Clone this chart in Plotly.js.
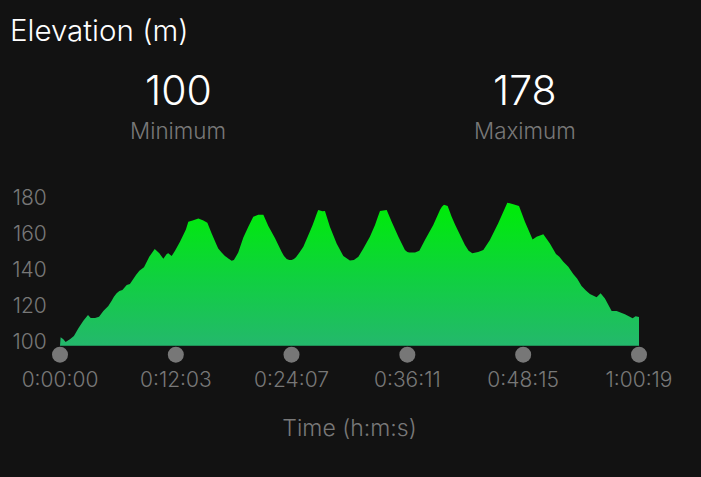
<!DOCTYPE html>
<html>
<head>
<meta charset="utf-8">
<script src="https://cdn.plot.ly/plotly-3.0.1.min.js"></script>
<style>
html, body { margin: 0; padding: 0; background: #121212; }
#chart { width: 701px; height: 477px; }
</style>
</head>
<body>
<div id="chart"></div>
<script>
// elevation profile. first and last points sit on the chart floor
var times = [0,4,21,35,62,87,115,146,175,192,219,244,271,302,323,337,354,371,390,417,437,475,496,525,558,592,621,646,667,677,698,719,750,775,787,802,829,865,896,921,948,979,989,1010,1031,1042,1052,1073,1087,1114,1146,1177,1208,1239,1271,1302,1344,1385,1400,1417,1433,1448,1462,1475,1500,1521,1562,1579,1594,1604,1614,1641,1656,1687,1729,1771,1812,1837,1865,1896,1937,1969,1983,2000,2042,2073,2115,2156,2171,2183,2219,2246,2281,2333,2375,2387,2400,2423,2448,2469,2490,2531,2554,2577,2614,2646,2687,2739,2796,2833,2869,2906,2954,2979,3021,3062,3100,3121,3146,3177,3208,3233,3260,3287,3312,3354,3379,3406,3448,3479,3531,3579,3598,3619,3619];
var elevation = [98,102.6,101.5,100,101.5,103.3,107.6,111.8,114.9,113.3,113.3,114,117.1,119.9,122.8,125,126.9,128.2,128.7,131.5,132,137,139.4,141.3,147.1,151.4,149,146,148.6,149,147.5,150.5,155.4,160,162.2,166.5,167.2,168.3,167.2,165.9,160,153.6,151.7,149.4,147.5,146.8,146.2,144.9,145.3,149.4,157.8,163.7,169.2,170.3,170.3,164.1,157.3,149.9,147.5,145.9,145.3,145.3,145.9,146.8,149.9,152.7,161,164.6,168.3,170.7,172.9,172.2,172.4,163.7,154.5,147.5,145,145.3,147.1,151.7,158.2,164.6,168.3,172.4,172.9,166.5,158.2,150.8,149.7,149.4,149.5,150.5,156.4,164.6,172.9,174.8,175.9,175.1,169.2,165,161,153.6,150.5,149,149.7,150.8,156.4,165.6,177,176.1,175.1,166.5,156.7,158.2,159.5,154.5,148.6,147.1,144.4,141.6,137.6,135,130.9,128.4,126.5,124.7,126.9,124.1,117.1,117.1,115.3,113.1,114.2,113.8,98];

var timeTicks = [0, 724, 1447, 2171, 2895, 3619];
var timeLabels = ['0:00:00', '0:12:03', '0:24:07', '0:36:11', '0:48:15', '1:00:19'];
var dotLevel = [93, 93, 93, 93, 93, 93];
var elevTicks = [100, 120, 140, 160, 180];
var minValue = 100;
var maxValue = 178;

var grey = '#787878';
var font = 'Inter, Liberation Sans, sans-serif';

var area = {
    x: times,
    y: elevation,
    mode: 'none',
    type: 'scatter',
    fill: 'toself',
    fillgradient: {
        type: 'vertical',
        colorscale: [[0, '#24b86c'], [0.5, '#10d040'], [1, '#00ea0c']],
        start: 98,
        stop: 172
    },
    hoverinfo: 'skip'
};
var dots = {
    x: timeTicks,
    y: dotLevel,
    mode: 'markers',
    type: 'scatter',
    cliponaxis: false,
    marker: {size: 16, color: '#777777'},
    hoverinfo: 'skip'
};

function bigText(text, y, size, color) {
    return {text: text, xref: 'paper', yref: 'paper', x: 0, y: y, xanchor: 'center', yanchor: 'middle',
        showarrow: false, font: {size: size, color: color, family: font, weight: 300}};
}
var notes = [
    bigText(String(minValue), 1 + 100 / 175, 41, '#ffffff'),
    bigText('Minimum', 1 + 59.5 / 175, 22.4, grey),
    bigText(String(maxValue), 1 + 100 / 175, 41, '#ffffff'),
    bigText('Maximum', 1 + 59.5 / 175, 22.4, grey)
];
notes[0].x = notes[1].x = (178 - 60) / 579;
notes[2].x = notes[3].x = (525 - 60) / 579;

var layout = {
    width: 701,
    height: 477,
    paper_bgcolor: '#121212',
    plot_bgcolor: '#121212',
    showlegend: false,
    margin: {t: 190, r: 62, l: 60, b: 112},
    font: {family: font, color: grey, weight: 300},
    title: {
        text: 'Elevation (m)',
        font: {size: 29.5, color: '#ffffff', family: font, weight: 300},
        x: 10 / 701,
        xanchor: 'left',
        y: 1 - 31 / 477,
        yanchor: 'middle'
    },
    xaxis: {
        range: [0, 3619],
        tickvals: timeTicks,
        ticktext: timeLabels,
        tickfont: {size: 21, color: grey, family: font, weight: 300},
        ticks: '',
        showgrid: false,
        zeroline: false,
        showline: false,
        title: {text: 'Time (h:m:s)', font: {size: 23, color: grey, family: font, weight: 300}, standoff: 28}
    },
    yaxis: {
        range: [87.3, 184],
        tickvals: elevTicks,
        tickfont: {size: 21, color: grey, family: font, weight: 300},
        ticks: 'outside',
        ticklen: 8,
        tickcolor: 'rgba(0,0,0,0)',
        showgrid: false,
        zeroline: false,
        showline: false
    },
    annotations: notes
};

Plotly.newPlot('chart', [area, dots], layout, {displayModeBar: false});
</script>
</body>
</html>
